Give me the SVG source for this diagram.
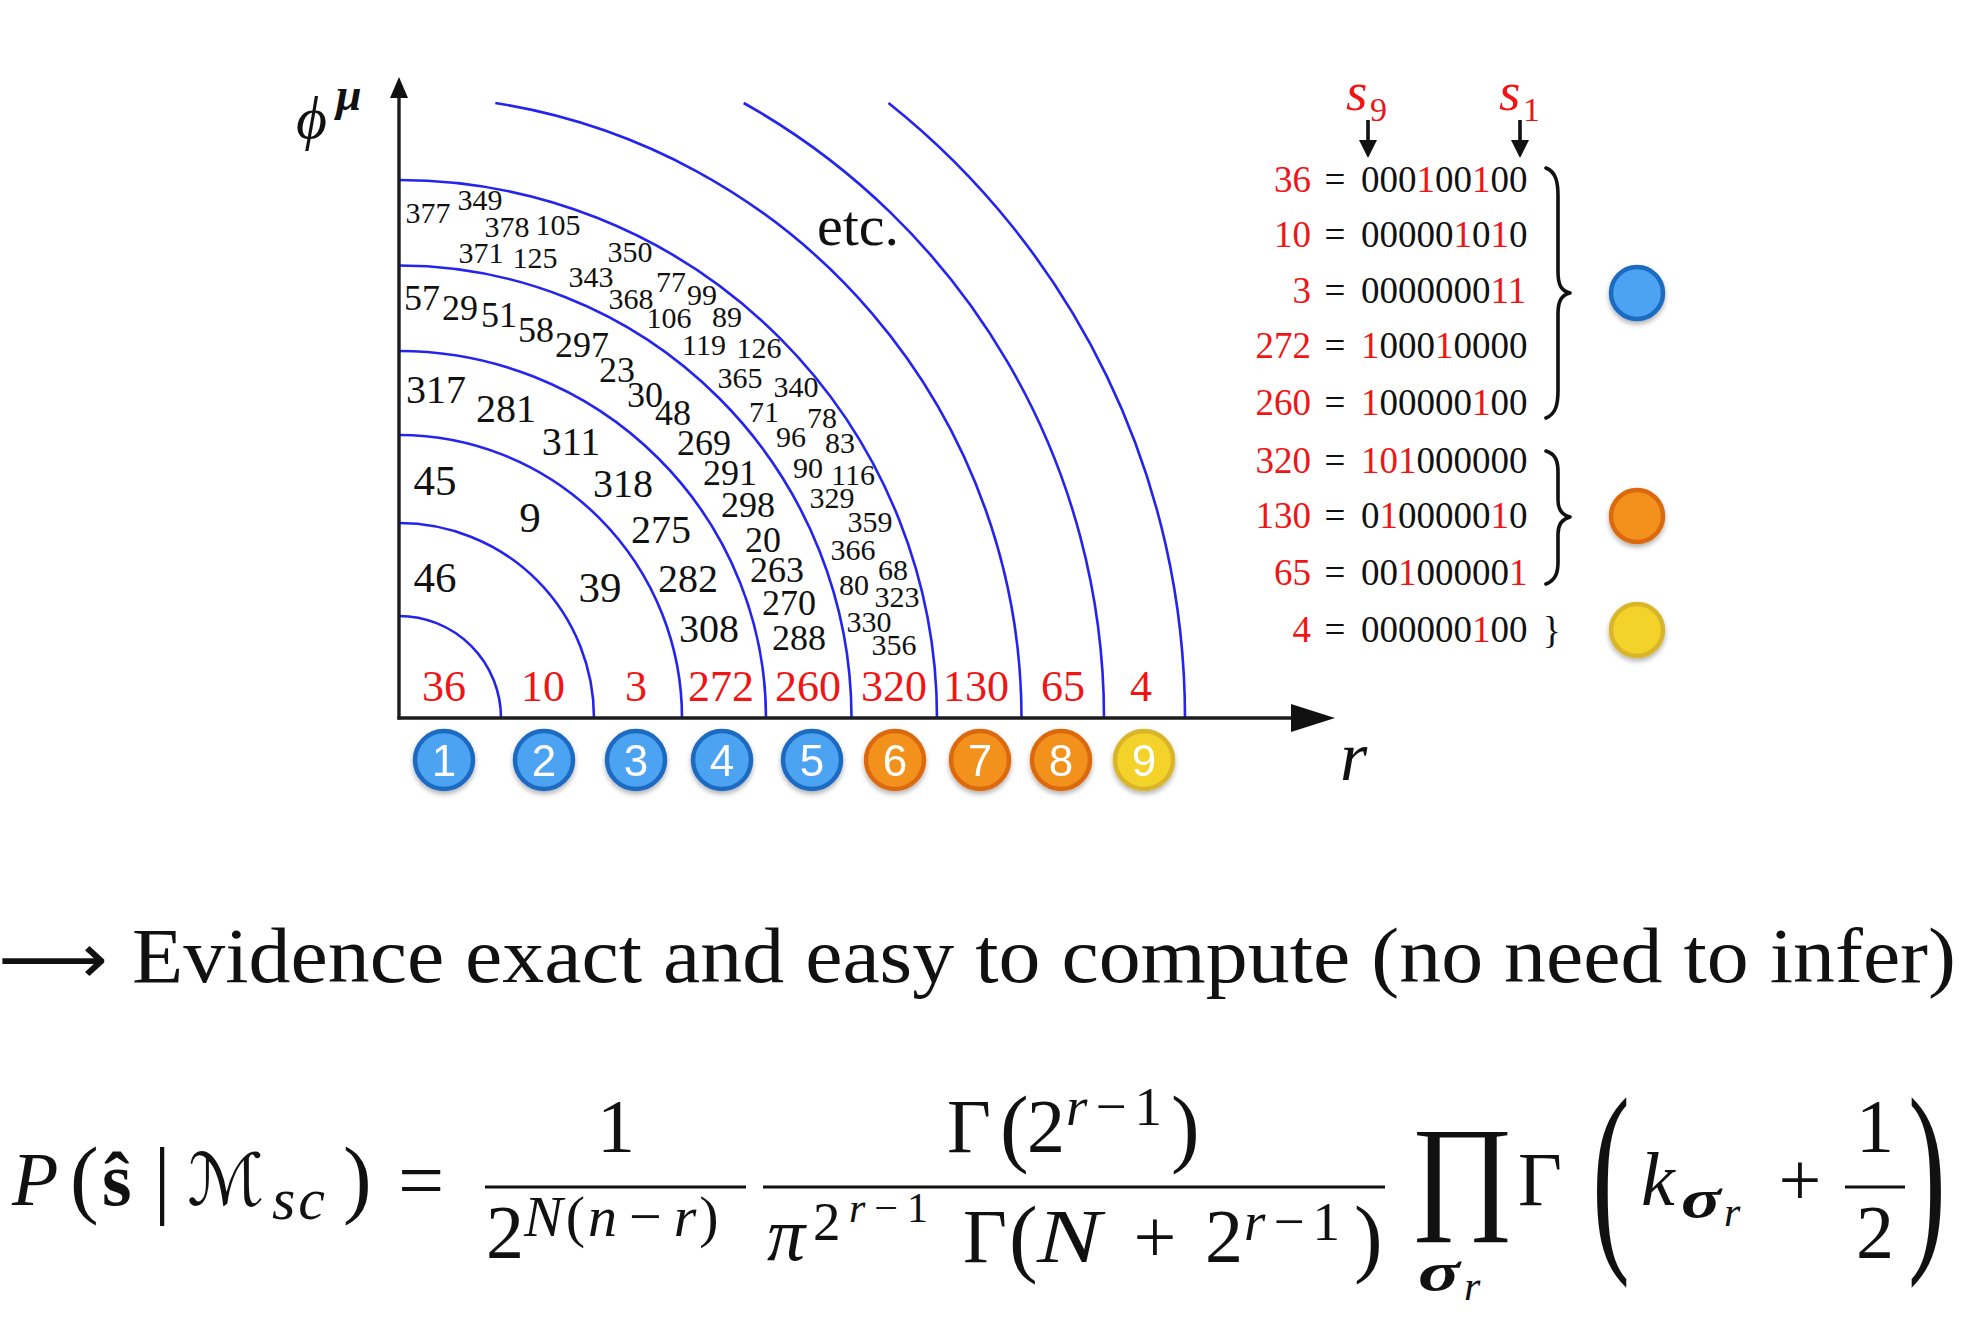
<svg xmlns="http://www.w3.org/2000/svg" width="1966" height="1340" viewBox="0 0 1966 1340">
<defs>
<style>
.arc{fill:none;stroke:#2424ee;stroke-width:2.6}
.ax{stroke:#1c1c1c;stroke-width:3.4;fill:none}
.t{font-family:"Liberation Serif",serif;fill:#111}
.n{font-family:"Liberation Serif",serif;fill:#111;text-anchor:middle}
.s30{font-size:30px}
.s36{font-size:36px}
.s40{font-size:40px}
.s43{font-size:43px}
.rl{font-family:"Liberation Serif",serif;font-size:44px;fill:#f01515;text-anchor:middle}
.bin{font-family:"Liberation Serif",serif;font-size:37px;fill:#111}
.r{fill:#f01515}
.it{font-style:italic}
.bi{font-style:italic;font-weight:bold}
.m{font-family:"Liberation Serif",serif;fill:#111;font-size:76px}
.sup{font-size:55px}
.ss{font-size:42px}
.dig{font-family:"Liberation Sans",Arial,sans-serif;font-size:44px;fill:#fff;text-anchor:middle}
.cb{fill:#4ba3f2;stroke:#1b6bc2;stroke-width:4.5}
.co{fill:#f2911e;stroke:#dc6a10;stroke-width:4.5}
.cy{fill:#f3d22b;stroke:#d9b52a;stroke-width:4.5}
.brace{fill:none;stroke:#111;stroke-width:3.6;stroke-linejoin:round;stroke-linecap:round}
</style>
<filter id="sh" x="-30%" y="-30%" width="160%" height="170%">
<feDropShadow dx="0" dy="3" stdDeviation="2.5" flood-color="#000" flood-opacity="0.3"/>
</filter>
</defs>
<rect width="1966" height="1340" fill="#fff"/>

<g id="connectors">
<g id="rings">
<path class="arc" d="M399,616 A102 102 0 0 1 501,718"/>
<path class="arc" d="M399,523 A195 195 0 0 1 594,718"/>
<path class="arc" d="M399,435 A283 283 0 0 1 682,718"/>
<path class="arc" d="M399,351 A367 367 0 0 1 766,718"/>
<path class="arc" d="M399,265.5 A452.5 452.5 0 0 1 851.5,718"/>
<path class="arc" d="M399,180 A538 538 0 0 1 937,718"/>
<path class="arc" d="M495.3,103 A622.5 622.5 0 0 1 1021.5,718"/>
<path class="arc" d="M743.7,103 A705 705 0 0 1 1104,718"/>
<path class="arc" d="M888.5,103 A786 786 0 0 1 1185,718"/>
</g>
<g id="axes">
<line class="ax" x1="399" y1="719.5" x2="399" y2="94"/>
<polygon points="399,77 408,98 390,98" fill="#111"/>
<line class="ax" x1="397.5" y1="718" x2="1296" y2="718"/>
<polygon points="1335,718 1291,704 1291,732" fill="#111"/>
</g>
<g id="bit-arrows">
<line x1="1368" y1="120" x2="1368" y2="143" stroke="#111" stroke-width="3.6"/>
<polygon points="1359,140 1377,140 1368,158" fill="#111"/>
<line x1="1520" y1="120" x2="1520" y2="143" stroke="#111" stroke-width="3.6"/>
<polygon points="1511,140 1529,140 1520,158" fill="#111"/>
</g>
</g>

<g id="axis-labels">
<text x="296" y="138" font-family="Liberation Serif,DejaVu Serif,serif" font-style="italic" font-size="60" fill="#111">ϕ</text>
<text class="t bi" x="336" y="110" font-size="46">μ</text>
<text class="t it" x="1340" y="780" font-size="70">r</text>
<text class="t" x="858" y="245" font-size="58" text-anchor="middle">etc.</text>
</g>

<g id="ring-numbers">
<text class="n s43" x="435" y="592">46</text>
<text class="n s43" x="435" y="495">45</text>
<text class="n s43" x="530" y="532">9</text>
<text class="n s43" x="600" y="602">39</text>

<text class="n s40" x="436" y="403">317</text>
<text class="n s40" x="506" y="422">281</text>
<text class="n s40" x="571" y="455">311</text>
<text class="n s40" x="623" y="497">318</text>
<text class="n s40" x="661" y="543">275</text>
<text class="n s40" x="688" y="592">282</text>
<text class="n s40" x="709" y="642">308</text>

<text class="n s36" x="422" y="310">57</text>
<text class="n s36" x="460" y="320">29</text>
<text class="n s36" x="499" y="327">51</text>
<text class="n s36" x="536" y="342">58</text>
<text class="n s36" x="582" y="357">297</text>
<text class="n s36" x="617" y="382">23</text>
<text class="n s36" x="645" y="407">30</text>
<text class="n s36" x="673" y="425">48</text>
<text class="n s36" x="704" y="455">269</text>
<text class="n s36" x="730" y="485">291</text>
<text class="n s36" x="748" y="517">298</text>
<text class="n s36" x="763" y="552">20</text>
<text class="n s36" x="777" y="582">263</text>
<text class="n s36" x="789" y="615">270</text>
<text class="n s36" x="799" y="650">288</text>

<text class="n s30" x="428" y="223">377</text>
<text class="n s30" x="480" y="210">349</text>
<text class="n s30" x="507" y="237">378</text>
<text class="n s30" x="558" y="235">105</text>
<text class="n s30" x="481" y="263">371</text>
<text class="n s30" x="535" y="268">125</text>
<text class="n s30" x="630" y="262">350</text>
<text class="n s30" x="591" y="287">343</text>
<text class="n s30" x="631" y="309">368</text>
<text class="n s30" x="671" y="292">77</text>
<text class="n s30" x="702" y="305">99</text>
<text class="n s30" x="669" y="328">106</text>
<text class="n s30" x="727" y="327">89</text>
<text class="n s30" x="704" y="355">119</text>
<text class="n s30" x="759" y="358">126</text>
<text class="n s30" x="740" y="388">365</text>
<text class="n s30" x="796" y="397">340</text>
<text class="n s30" x="764" y="422">71</text>
<text class="n s30" x="822" y="428">78</text>
<text class="n s30" x="791" y="447">96</text>
<text class="n s30" x="840" y="453">83</text>
<text class="n s30" x="808" y="478">90</text>
<text class="n s30" x="853" y="485">116</text>
<text class="n s30" x="832" y="508">329</text>
<text class="n s30" x="870" y="532">359</text>
<text class="n s30" x="853" y="560">366</text>
<text class="n s30" x="893" y="580">68</text>
<text class="n s30" x="854" y="595">80</text>
<text class="n s30" x="897" y="607">323</text>
<text class="n s30" x="869" y="632">330</text>
<text class="n s30" x="894" y="655">356</text>
</g>

<g id="axis-values">
<text class="rl" x="444" y="701">36</text>
<text class="rl" x="543" y="701">10</text>
<text class="rl" x="636" y="701">3</text>
<text class="rl" x="721" y="701">272</text>
<text class="rl" x="808" y="701">260</text>
<text class="rl" x="894" y="701">320</text>
<text class="rl" x="976" y="701">130</text>
<text class="rl" x="1063" y="701">65</text>
<text class="rl" x="1141" y="701">4</text>
</g>

<g id="step-circles" filter="url(#sh)">
<g id="step1"><circle class="cb" cx="444" cy="760" r="29"/><text class="dig" x="444" y="776">1</text></g>
<g id="step2"><circle class="cb" cx="544" cy="760" r="29"/><text class="dig" x="544" y="776">2</text></g>
<g id="step3"><circle class="cb" cx="636" cy="760" r="29"/><text class="dig" x="636" y="776">3</text></g>
<g id="step4"><circle class="cb" cx="722" cy="760" r="29"/><text class="dig" x="722" y="776">4</text></g>
<g id="step5"><circle class="cb" cx="812" cy="760" r="29"/><text class="dig" x="812" y="776">5</text></g>
<g id="step6"><circle class="co" cx="895" cy="760" r="29"/><text class="dig" x="895" y="776">6</text></g>
<g id="step7"><circle class="co" cx="980" cy="760" r="29"/><text class="dig" x="980" y="776">7</text></g>
<g id="step8"><circle class="co" cx="1061" cy="760" r="29"/><text class="dig" x="1061" y="776">8</text></g>
<g id="step9"><circle class="cy" cx="1144" cy="760" r="29"/><text class="dig" x="1144" y="776">9</text></g>
</g>

<g id="bit-table">
<text class="t it r" x="1346" y="110" font-size="55">s</text>
<text class="t r" x="1370" y="121" font-size="34">9</text>
<text class="t it r" x="1499" y="110" font-size="55">s</text>
<text class="t r" x="1523" y="121" font-size="34">1</text>

<g id="row36"><text class="bin r" x="1311" y="192" text-anchor="end">36</text><text class="bin" x="1335" y="192" text-anchor="middle">=</text><text class="bin" x="1361" y="192">000<tspan class="r">1</tspan>00<tspan class="r">1</tspan>00</text></g>
<g id="row10"><text class="bin r" x="1311" y="247" text-anchor="end">10</text><text class="bin" x="1335" y="247" text-anchor="middle">=</text><text class="bin" x="1361" y="247">00000<tspan class="r">1</tspan>0<tspan class="r">1</tspan>0</text></g>
<g id="row3"><text class="bin r" x="1311" y="303" text-anchor="end">3</text><text class="bin" x="1335" y="303" text-anchor="middle">=</text><text class="bin" x="1361" y="303">0000000<tspan class="r">11</tspan></text></g>
<g id="row272"><text class="bin r" x="1311" y="358" text-anchor="end">272</text><text class="bin" x="1335" y="358" text-anchor="middle">=</text><text class="bin" x="1361" y="358"><tspan class="r">1</tspan>000<tspan class="r">1</tspan>0000</text></g>
<g id="row260"><text class="bin r" x="1311" y="415" text-anchor="end">260</text><text class="bin" x="1335" y="415" text-anchor="middle">=</text><text class="bin" x="1361" y="415"><tspan class="r">1</tspan>00000<tspan class="r">1</tspan>00</text></g>
<g id="row320"><text class="bin r" x="1311" y="473" text-anchor="end">320</text><text class="bin" x="1335" y="473" text-anchor="middle">=</text><text class="bin" x="1361" y="473"><tspan class="r">101</tspan>000000</text></g>
<g id="row130"><text class="bin r" x="1311" y="528" text-anchor="end">130</text><text class="bin" x="1335" y="528" text-anchor="middle">=</text><text class="bin" x="1361" y="528">0<tspan class="r">1</tspan>00000<tspan class="r">1</tspan>0</text></g>
<g id="row65"><text class="bin r" x="1311" y="585" text-anchor="end">65</text><text class="bin" x="1335" y="585" text-anchor="middle">=</text><text class="bin" x="1361" y="585">00<tspan class="r">1</tspan>00000<tspan class="r">1</tspan></text></g>
<g id="row4"><text class="bin r" x="1311" y="642" text-anchor="end">4</text><text class="bin" x="1335" y="642" text-anchor="middle">=</text><text class="bin" x="1361" y="642">000000<tspan class="r">1</tspan>00</text></g>

<path class="brace" d="M1546,168 C1556,172 1558,182 1558,196 L1558,272 C1558,286 1562,291 1570,293 C1562,295 1558,300 1558,314 L1558,390 C1558,404 1556,414 1546,418"/>
<path class="brace" d="M1546,451 C1556,454 1558,462 1558,472 L1558,500 C1558,510 1562,515 1570,517 C1562,519 1558,524 1558,534 L1558,562 C1558,572 1556,580 1546,584"/>
<text class="bin" x="1543" y="643">}</text>
</g>

<g id="groups" filter="url(#sh)">
<g id="group-blue"><circle class="cb" cx="1637" cy="293" r="26"/></g>
<g id="group-orange"><circle class="co" cx="1637" cy="516" r="26"/></g>
<g id="group-yellow"><circle class="cy" cx="1637" cy="630" r="26"/></g>
</g>

<g id="sentence">
<text x="-2" y="983" font-family="DejaVu Sans" font-size="70" fill="#111" textLength="110" lengthAdjust="spacingAndGlyphs">⟶</text>
<text class="t" x="132" y="982" font-size="78" textLength="1824" lengthAdjust="spacingAndGlyphs">Evidence exact and easy to compute (no need to infer)</text>
</g>

<g id="formula">
<text class="m it" x="12" y="1205">P</text>
<text class="m" x="70" y="1207" style="font-size:86px">(</text>
<text class="m" x="102" y="1205" font-weight="bold">ŝ</text>
<text class="m" x="162" y="1207" style="font-size:86px" text-anchor="middle">|</text>
<text x="187" y="1205" font-family="DejaVu Serif,DejaVu Sans,serif" font-size="72" fill="#111">ℳ</text>
<text class="m it" x="272" y="1219" style="font-size:60px;letter-spacing:3px">sc</text>
<text class="m" x="343" y="1207" style="font-size:86px">)</text>
<text class="m" x="421" y="1208" style="font-size:82px" text-anchor="middle">=</text>

<line x1="485" y1="1187" x2="746" y2="1187" stroke="#111" stroke-width="3.2"/>
<text class="m" x="616" y="1152" text-anchor="middle">1</text>
<text class="m" x="486" y="1258">2</text>
<text class="m" x="524" y="1236" style="font-size:58px;letter-spacing:3px"><tspan class="it">N</tspan>(<tspan class="it">n</tspan><tspan dx="9">−</tspan><tspan class="it" dx="9">r</tspan>)</text>

<line x1="763" y1="1187" x2="1385" y2="1187" stroke="#111" stroke-width="3.2"/>
<text class="m" x="947" y="1152">Γ</text>
<text class="m" x="1000" y="1156" style="font-size:86px">(</text>
<text class="m" x="1027" y="1152">2</text>
<text class="m sup" x="1066" y="1125"><tspan class="it">r</tspan><tspan dx="8">−</tspan><tspan dx="8">1</tspan></text>
<text class="m" x="1171" y="1156" style="font-size:86px">)</text>

<text class="m it" x="767" y="1260">π</text>
<text class="m sup" x="813" y="1240">2</text>
<text class="m ss" x="849" y="1222"><tspan class="it">r</tspan><tspan dx="9">−</tspan><tspan dx="9">1</tspan></text>
<text class="m" x="963" y="1262">Γ</text>
<text class="m" x="1009" y="1266" style="font-size:86px">(</text>
<text class="m it" x="1037" y="1262" textLength="64" lengthAdjust="spacingAndGlyphs">N</text>
<text class="m" x="1155" y="1262" text-anchor="middle">+</text>
<text class="m" x="1205" y="1262">2</text>
<text class="m sup" x="1244" y="1240"><tspan class="it">r</tspan><tspan dx="8">−</tspan><tspan dx="8">1</tspan></text>
<text class="m" x="1354" y="1266" style="font-size:86px">)</text>

<text class="m" x="1410" y="1215" style="font-size:127px">∏</text>
<text class="m bi sup" x="1418" y="1290" textLength="42" lengthAdjust="spacingAndGlyphs">σ</text>
<text class="m it ss" x="1464" y="1300">r</text>

<text class="m" x="1518" y="1205">Γ</text>
<text class="m" transform="translate(1592,1243) scale(1.5,2.75)">(</text>
<text class="m it" x="1641" y="1205">k</text>
<text class="m bi sup" x="1681" y="1217" textLength="40" lengthAdjust="spacingAndGlyphs">σ</text>
<text class="m it ss" x="1724" y="1226">r</text>
<text class="m" x="1800" y="1205" text-anchor="middle">+</text>
<line x1="1845" y1="1187" x2="1905" y2="1187" stroke="#111" stroke-width="3.2"/>
<text class="m" x="1875" y="1152" text-anchor="middle">1</text>
<text class="m" x="1875" y="1258" text-anchor="middle">2</text>
<text class="m" transform="translate(1908,1243) scale(1.5,2.75)">)</text>
</g>
</svg>
